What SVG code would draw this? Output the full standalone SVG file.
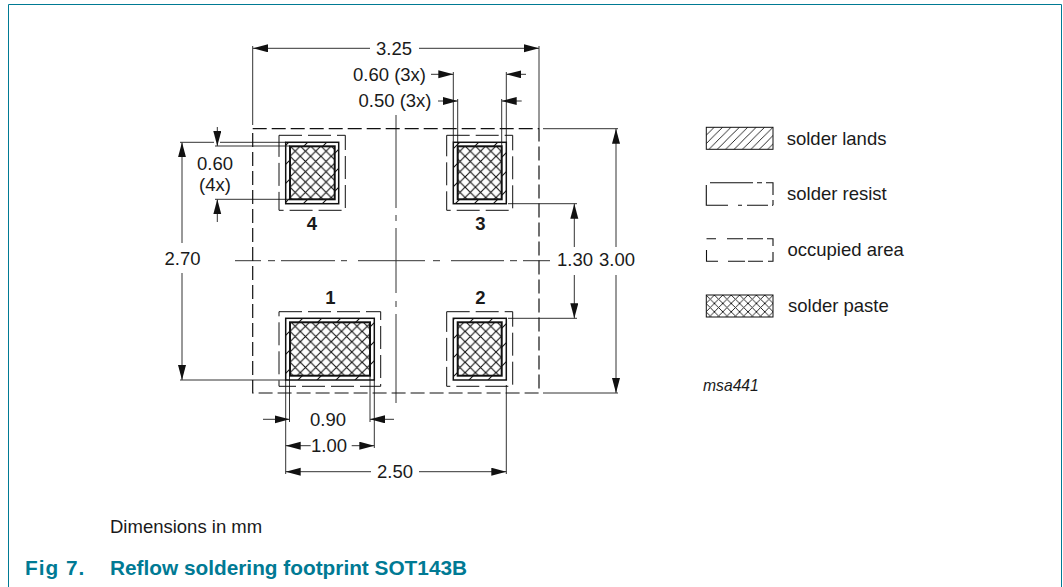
<svg xmlns="http://www.w3.org/2000/svg" width="1063" height="587" viewBox="0 0 1063 587">
<style>
text{font-family:"Liberation Sans",Arial,sans-serif;font-size:18.5px;fill:#1a1a1a}
.m{text-anchor:middle}
.b{font-weight:bold}
.dim{stroke:#333;stroke-width:1;fill:none}
.arr{stroke:#333;stroke-width:1;fill:none;marker-end:url(#ah)}
.occ{fill:none;stroke:#111;stroke-width:1.2;stroke-dasharray:14 5}
.res{fill:none;stroke:#111;stroke-width:1;stroke-dasharray:23 6}
.leg{fill:none;stroke:#111;stroke-width:1.1}
.land{fill:url(#hatch);stroke:#111;stroke-width:1.5}
.paste{fill:url(#cross);stroke:#111;stroke-width:2}
.ttl{fill:#007a94;font-size:20.8px;font-weight:bold}
</style>
<defs>
<marker id="ah" markerUnits="userSpaceOnUse" markerWidth="16" markerHeight="10" refX="15" refY="4" orient="auto"><path d="M0 0L15 4L0 8Z" fill="#111"/></marker>
<pattern id="hatch" patternUnits="userSpaceOnUse" width="19" height="19" patternTransform="translate(13 0)"><path d="M-2 21L21 -2M-2 2L2 -2M17 21L21 17" stroke="#111" stroke-width="1.1" fill="none"/></pattern>
<pattern id="lhatch" patternUnits="userSpaceOnUse" width="8.4" height="8.4" patternTransform="translate(706 127)"><path d="M0 8.4L8.4 0M-1 1L1 -1M7.4 9.4L9.4 7.4" stroke="#111" stroke-width="0.9" fill="none"/></pattern>
<pattern id="cross" patternUnits="userSpaceOnUse" width="10.3" height="10.3" patternTransform="translate(290 146)"><rect width="10.3" height="10.3" fill="#fff"/><path d="M0 0L10.3 10.3M10.3 0L0 10.3" stroke="#111" stroke-width="1.1" fill="none"/></pattern>
<pattern id="lcross" patternUnits="userSpaceOnUse" width="8.4" height="8.4" patternTransform="translate(706 295)"><path d="M0 0L8.4 8.4M8.4 0L0 8.4" stroke="#111" stroke-width="0.9" fill="none"/></pattern>
</defs>
<path id="frame" d="M8.5 587V4.5H1061.5V587" fill="none" stroke="#007a94" stroke-width="1"/>
<g id="connectors">
<path class="arr" d="M370 48.3H253"/><path class="arr" d="M419 48.3H539"/>
<path class="dim" d="M252.7 46V125M539 46V128"/>
<path class="dim" d="M453.3 72V142M506.3 72V142M457.7 99V146M501.7 99V146"/>
<path class="arr" d="M431 74.3H453.3"/><path class="arr" d="M526 74.3H506.3"/>
<path class="arr" d="M438 101H457.7"/><path class="arr" d="M521.7 101H501.7"/>
<path class="dim" d="M396 115V208M396 215V221M396 228V293M396 301V307M396 314V403"/>
<path class="dim" d="M235 260.7H261M268 260.7H275M281 260.7H335M341 260.7H347M358 260.7H425M433 260.7H440M451 260.7H504M510 260.7H517M523 260.7H550"/>
<path class="arr" d="M217.3 127V146"/><path class="arr" d="M217.3 222V199.3"/>
<path class="dim" d="M215 146H290M215 199.3H288M180 142.3H214M220 142.3H286M180 380H286"/>
<path class="arr" d="M182 243V142.3"/><path class="arr" d="M182 273V380"/>
<path class="dim" d="M289.5 376V422M370 376V422M285.7 380V474M374.3 380V448M506.3 385V474"/>
<path class="arr" d="M263 419.3H289.5"/><path class="arr" d="M394 419.3H370"/>
<path class="arr" d="M310.7 445.7H285.7"/><path class="arr" d="M351.7 445.7H374.3"/>
<path class="arr" d="M371 471.7H285.7"/><path class="arr" d="M419 471.7H506.3"/>
<path class="dim" d="M508 203.7H577M508 318.3H577M543 128.7H618M543 393H618"/>
<path class="arr" d="M574.3 247V203.7"/><path class="arr" d="M574.3 275V318.3"/>
<path class="arr" d="M616 247V128.7"/><path class="arr" d="M616 275V393"/>
</g>
<g id="occupied-area"><rect class="occ" x="252.7" y="128.7" width="286.3" height="264.3"/></g>
<g id="pad-4"><rect class="res" x="279" y="135.3" width="66.3" height="75"/><rect class="land" x="285.7" y="142.3" width="53" height="61.4"/><rect class="paste" x="290" y="146.3" width="44.7" height="53"/><text class="m b" x="312" y="230">4</text></g>
<g id="pad-3"><rect class="res" x="446.7" y="135.3" width="66" height="75"/><rect class="land" x="453.3" y="142.3" width="53" height="61.4"/><rect class="paste" x="457.7" y="146.3" width="44" height="53"/><text class="m b" x="480.5" y="230">3</text></g>
<g id="pad-1"><rect class="res" x="279" y="311.7" width="101.7" height="74.6"/><rect class="land" x="285.7" y="318.3" width="88.6" height="61.7"/><rect class="paste" x="290" y="322.3" width="80" height="53.4"/><text class="m b" x="330.5" y="304">1</text></g>
<g id="pad-2"><rect class="res" x="446.7" y="311.7" width="66" height="74.6"/><rect class="land" x="453.3" y="318.3" width="53" height="61.7"/><rect class="paste" x="457.7" y="322.3" width="44" height="53.4"/><text class="m b" x="480.5" y="304">2</text></g>
<g id="dimension-labels">
<text class="m" x="394" y="55">3.25</text>
<text x="353" y="80.5">0.60 (3x)</text>
<text x="358.5" y="107">0.50 (3x)</text>
<text class="m" x="215" y="170">0.60</text>
<text class="m" x="215" y="191">(4x)</text>
<text class="m" x="182.5" y="265">2.70</text>
<text class="m" x="575" y="266">1.30</text>
<text class="m" x="617" y="266">3.00</text>
<text class="m" x="328" y="425.5">0.90</text>
<text class="m" x="329" y="451.5">1.00</text>
<text class="m" x="395" y="478">2.50</text>
</g>
<g id="legend-lands"><rect x="706.3" y="127.3" width="66.7" height="22" fill="url(#lhatch)" stroke="#111"/><text x="786.7" y="145">solder lands</text></g>
<g id="legend-resist"><path class="leg" d="M710 182.7H753M757 182.7H762M766 182.7H773V195M773 200V205.3M773 205.3H772M768 205.3H747M742 205.3H738M728 205.3H706.3V185"/><text x="787" y="200">solder resist</text></g>
<g id="legend-occupied"><path class="leg" d="M706.5 238.7H716M727 238.7H743M747 238.7H763M767 238.7H773V246M773 252V261.3H768M763 261.3H748M745 261.3H728M718 261.3H706.5V250"/><text x="787.5" y="256">occupied area</text></g>
<g id="legend-paste"><rect x="706.3" y="295" width="66.7" height="22" fill="url(#lcross)" stroke="#111"/><text x="788" y="312">solder paste</text></g>
<text x="703" y="391" style="font-style:italic;font-size:15.7px">msa441</text>
<text x="110" y="533">Dimensions in mm</text>
<text x="25" y="575" class="ttl" letter-spacing="1">Fig 7.</text>
<text x="110" y="575" class="ttl">Reflow soldering footprint SOT143B</text>
</svg>
